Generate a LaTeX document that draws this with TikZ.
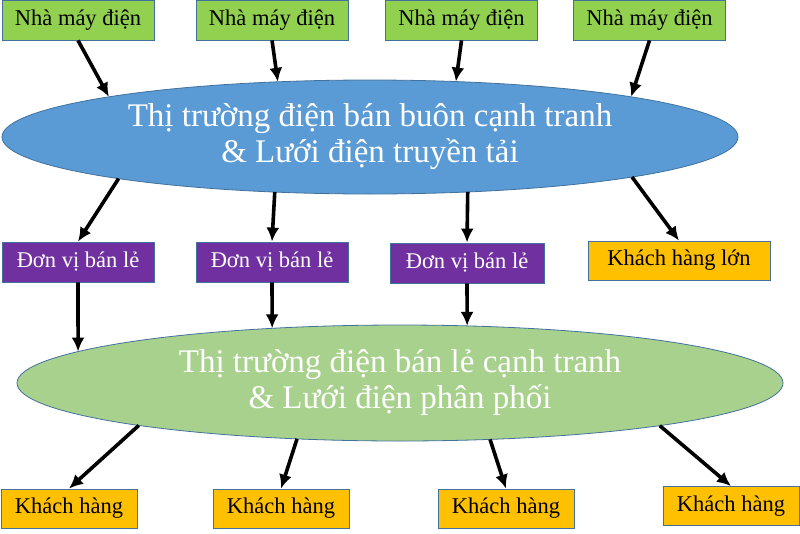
\documentclass[tikz,border=0pt]{standalone}
\usepackage{fontspec}
\setmainfont{Liberation Serif}
\usepackage{xcolor}
\usetikzlibrary{arrows.meta,shapes.geometric,calc}
\definecolor{plantgreen}{HTML}{92D050}
\definecolor{retailpurple}{HTML}{7030A0}
\definecolor{custorange}{HTML}{FFC000}
\definecolor{wholeblue}{HTML}{5B9BD5}
\definecolor{distgreen}{HTML}{A9D18E}
\definecolor{edgeblue}{HTML}{41719C}

\begin{document}
\begin{tikzpicture}[x=1pt, y=-1pt, every node/.style={font=\fontsize{22.5}{26}\selectfont}, box/.style={rectangle, draw=edgeblue, line width=0.8pt, minimum height=40pt, inner sep=0pt}, plant/.style={box, fill=plantgreen, minimum width=152pt}, retail/.style={box, fill=retailpurple, text=white, minimum width=152pt}, cust/.style={box, fill=custorange, minimum width=136pt, minimum height=39pt}, market/.style={ellipse, draw=edgeblue, line width=0.8pt, inner sep=0pt, text=white, align=center, font=\fontsize{33}{36}\selectfont}, arr/.style={-{Latex[length=14pt,width=13pt]}, line width=3.6pt}]
\useasboundingbox (0,0) rectangle (800,533);
\node[plant] (p1) at (78,20) {Nhà máy điện};
\node[plant] (p2) at (272,20) {Nhà máy điện};
\node[plant] (p3) at (461.5,20) {Nhà máy điện};
\node[plant] (p4) at (649.5,20) {Nhà máy điện};
\node[market, fill=wholeblue, minimum width=736pt, minimum height=114pt] (wm) at (370,137) {Thị trường điện bán buôn cạnh tranh\\\& Lưới điện truyền tải};
\node[retail] (r1) at (78,262) {Đơn vị bán lẻ};
\node[retail] (r2) at (272,262) {Đơn vị bán lẻ};
\node[retail, minimum width=154pt] (r3) at (467,263) {Đơn vị bán lẻ};
\node[cust, minimum width=182pt] (big) at (679,260.5) {Khách hàng lớn};
\node[market, fill=distgreen, minimum width=766pt, minimum height=116pt] (rm) at (400,383) {Thị trường điện bán lẻ cạnh tranh\\\& Lưới điện phân phối};
\node[cust] (c1) at (69,508.5) {Khách hàng};
\node[cust] (c2) at (281,508.5) {Khách hàng};
\node[cust] (c3) at (506,508.5) {Khách hàng};
\node[cust] (c4) at (731,506) {Khách hàng};
% points on the ellipses: centre + (t: rx and ry)
\draw[arr] (p1.south)--($(wm.center)+(224.8:368 and 57)$); \draw[arr] (p2.south)--($(wm.center)+(255.5:368 and 57)$); \draw[arr] (p3.south)--($(wm.center)+(283.5:368 and 57)$); \draw[arr] (p4.south)--($(wm.center)+(315.2:368 and 57)$);
\draw[arr] ($(wm.center)+(133.1:368 and 57)$)--(r1.north); \draw[arr] ($(wm.center)+(105:368 and 57)$)--(r2.north); \draw[arr] ($(wm.center)+(74.6:368 and 57)$)--(r3.north); \draw[arr] ($(wm.center)+(44.6:368 and 57)$)--(big.north);
\draw[arr] (r1.south)--($(rm.center)+(212.8:383 and 58)$); \draw[arr] (r2.south)--($(rm.center)+(250.5:383 and 58)$); \draw[arr] (r3.south)--($(rm.center)+(280.1:383 and 58)$);
\draw[arr] ($(rm.center)+(133:383 and 58)$)--(c1.north); \draw[arr] ($(rm.center)+(105.6:383 and 58)$)--(c2.north); \draw[arr] ($(rm.center)+(76.4:383 and 58)$)--(c3.north); \draw[arr] ($(rm.center)+(47.3:383 and 58)$)--(c4.north);
\end{tikzpicture}
\end{document}
